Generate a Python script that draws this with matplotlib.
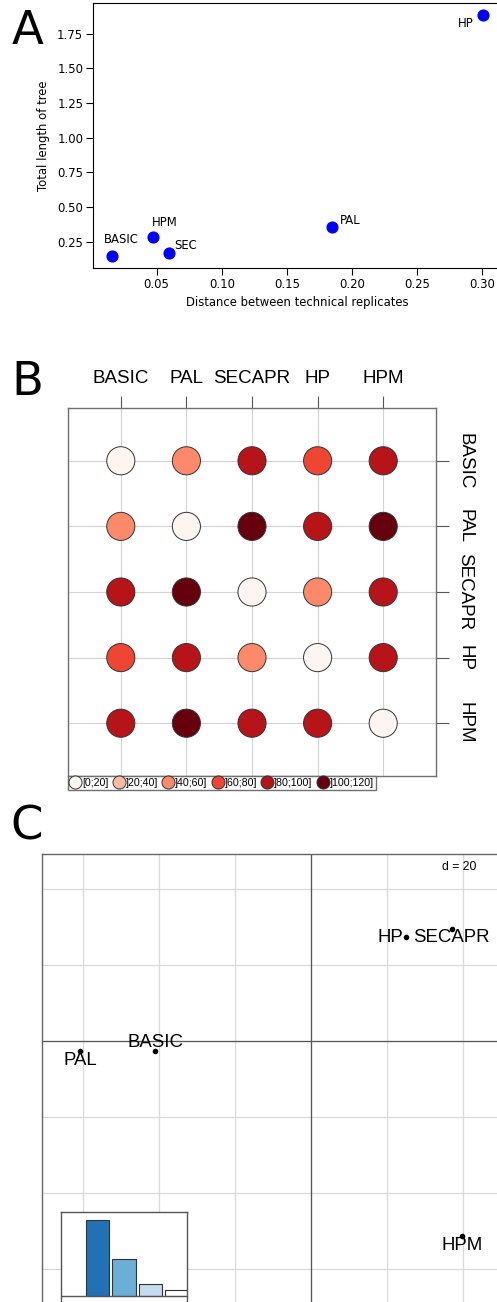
import numpy as np
import matplotlib
matplotlib.use("Agg")
import matplotlib.pyplot as plt
from matplotlib.lines import Line2D
from matplotlib.ticker import MultipleLocator

# ---------------- data ----------------
# Panel A
a_names = ["BASIC", "HPM", "SEC", "PAL", "HP"]
a_dist = [0.0154, 0.0469, 0.0597, 0.1843, 0.3005]
a_len = [0.147, 0.286, 0.171, 0.353, 1.882]

# Panel B
b_names = ["BASIC", "PAL", "SECAPR", "HP", "HPM"]
b_values = [
    [0, 50, 90, 70, 90],
    [50, 0, 110, 90, 110],
    [90, 110, 0, 50, 90],
    [70, 90, 50, 0, 90],
    [90, 110, 90, 90, 0],
]
b_edges = [0, 20, 40, 60, 80, 100, 120]
b_labels = ["[0;20]", "]20;40]", "]40;60]", "]60;80]", "]80;100]", "]100;120]"]
b_colors = ["#FFF5F0", "#FCBBA1", "#FC8A6A", "#EF4533", "#B71419", "#67000D"]

# Panel C
c_names = ["PAL", "BASIC", "HP", "SECAPR", "HPM"]
c_x = [-60.9, -41.1, 25.0, 37.1, 39.8]
c_y = [-2.6, -2.6, 27.4, 29.5, -51.4]
c_eig = [45.2, 21.7, 7.0, 3.6]
c_eig_colors = ["#2171B5", "#6BAED6", "#C6DBEF", "#FFFFFF"]

# ---------------- layout helpers ----------------
W, H = 497, 1302
fig = plt.figure(figsize=(W / 100, H / 100), dpi=100)


def rect(l, t, r, b):
    return [l / W, 1 - b / H, (r - l) / W, (b - t) / H]


letter_kw = dict(fontsize=33.5, family="DejaVu Sans", ha="left", va="baseline")
fig.text(12 / W, 1 - 43.5 / H, "A", **letter_kw)
fig.text(11 / W, 1 - 395.5 / H, "B", **letter_kw)
fig.text(10 / W, 1 - 839 / H, "C", **letter_kw)

# ---------------- Panel A ----------------
axA = fig.add_axes(rect(93, 3.3, 501.6, 268))
axA.scatter(a_dist, a_len, s=60, color="blue", zorder=3)
a_offsets = [(-7.4, 12.7), (-0.4, 10.6), (5, 4), (8, 3.7), (-25.6, -11.4)]
for n, x, y, off in zip(a_names, a_dist, a_len, a_offsets):
    axA.annotate(n, (x, y), xytext=off, textcoords="offset pixels",
                 fontsize=8.4, ha="left", va="baseline")
axA.xaxis.set_major_locator(MultipleLocator(0.05))
axA.yaxis.set_major_locator(MultipleLocator(0.25))
axA.tick_params(labelsize=8.4, length=5, pad=2)
axA.set_xlabel("Distance between technical replicates", fontsize=8.4, labelpad=4)
axA.set_ylabel("Total length of tree", fontsize=8.4, labelpad=5)

# ---------------- Panel B ----------------
axB = fig.add_axes(rect(68.3, 408.3, 435.7, 775.7))
vals = np.array(b_values, dtype=float)
n = len(b_names)
bins = np.searchsorted(np.array(b_edges[1:]), vals.ravel(), side="left")
cols = [b_colors[k] for k in bins]
xs = np.tile(np.arange(1, n + 1), n)
ys = np.repeat(np.arange(1, n + 1), n)
axB.scatter(xs, ys, s=410, c=cols, edgecolors="#333333", linewidths=0.7, zorder=3)
axB.set_xlim(0.2, n + 0.8)
axB.set_ylim(n + 0.8, 0.2)
axB.set_xticks(np.arange(1, n + 1))
axB.set_yticks(np.arange(1, n + 1))
axB.set_xticklabels(b_names, family="Liberation Sans")
axB.set_yticklabels(b_names, family="Liberation Sans", rotation=-90, va="center")
axB.xaxis.tick_top()
axB.yaxis.tick_right()
axB.tick_params(length=9, width=0.8, color="#555555", pad=6, labelsize=13.5)
axB.grid(True, color="#D3D3D3", lw=0.8, zorder=0)
axB.set_axisbelow(True)
for s in axB.spines.values():
    s.set_color("#707070")
    s.set_linewidth(1.0)
handles = [Line2D([], [], marker="o", ls="", markersize=9.4, markerfacecolor=c,
                  markeredgecolor="#333333", markeredgewidth=0.7, label=l)
           for c, l in zip(b_colors, b_labels)]
leg = axB.legend(handles=handles, ncol=6, loc="upper left",
                 bbox_to_anchor=(68.3 / W, 1 - 775.7 / H), bbox_transform=fig.transFigure,
                 prop={"family": "Liberation Sans", "size": 7.7},
                 handlelength=0.9, handletextpad=0.2, columnspacing=0.5,
                 borderpad=0.2, borderaxespad=0, fancybox=False,
                 edgecolor="#707070", framealpha=1)
leg.get_frame().set_linewidth(1.0)

# ---------------- Panel C ----------------
axC = fig.add_axes(rect(41.7, 854, 520, 1320))
axC.set_xlim(-71.0, 55.1)
axC.set_ylim(-73.5, 49.3)
axC.xaxis.set_major_locator(MultipleLocator(20))
axC.yaxis.set_major_locator(MultipleLocator(20))
axC.tick_params(length=0, labelbottom=False, labelleft=False)
axC.grid(True, color="#D9D9D9", lw=0.9)
axC.set_axisbelow(True)
axC.axhline(0, color="#555555", lw=0.9, zorder=2)
axC.axvline(0, color="#555555", lw=0.9, zorder=2)
for s in axC.spines.values():
    s.set_color("#666666")
    s.set_linewidth(1.0)
axC.scatter(c_x, c_y, s=9, color="black", zorder=3)
c_offsets = [(0, -10, "center"), (0, 8.7, "center"), (-2.5, 0, "right"),
             (0, -8.3, "center"), (0, -9.7, "center")]
for nm, x, y, (dx, dy, ha) in zip(c_names, c_x, c_y, c_offsets):
    axC.annotate(nm, (x, y), xytext=(dx, dy), textcoords="offset pixels",
                 fontsize=13.4, family="Liberation Sans", ha=ha, va="center", zorder=4)
axC.text(0.8735, 0.9715, "d = 20", transform=axC.transAxes, fontsize=8.8,
         family="Liberation Sans", ha="center", va="center")

# inset eigenvalues
axI = fig.add_axes(rect(60.7, 1212.3, 187.3, 1310))
pos = np.arange(1, len(c_eig) + 1)
axI.bar(pos, c_eig, width=0.89, color=c_eig_colors, edgecolor="#333333", lw=0.8, zorder=2)
axI.axhline(0, color="#555555", lw=1.0, zorder=3)
axI.set_xlim(-0.40, 4.39)
axI.set_ylim(-max(c_eig) * 0.19, max(c_eig) * 1.10)
axI.set_xticks([])
axI.set_yticks([])
for s in axI.spines.values():
    s.set_color("#555555")
    s.set_linewidth(1.0)

fig.savefig("out.png", dpi=100)
